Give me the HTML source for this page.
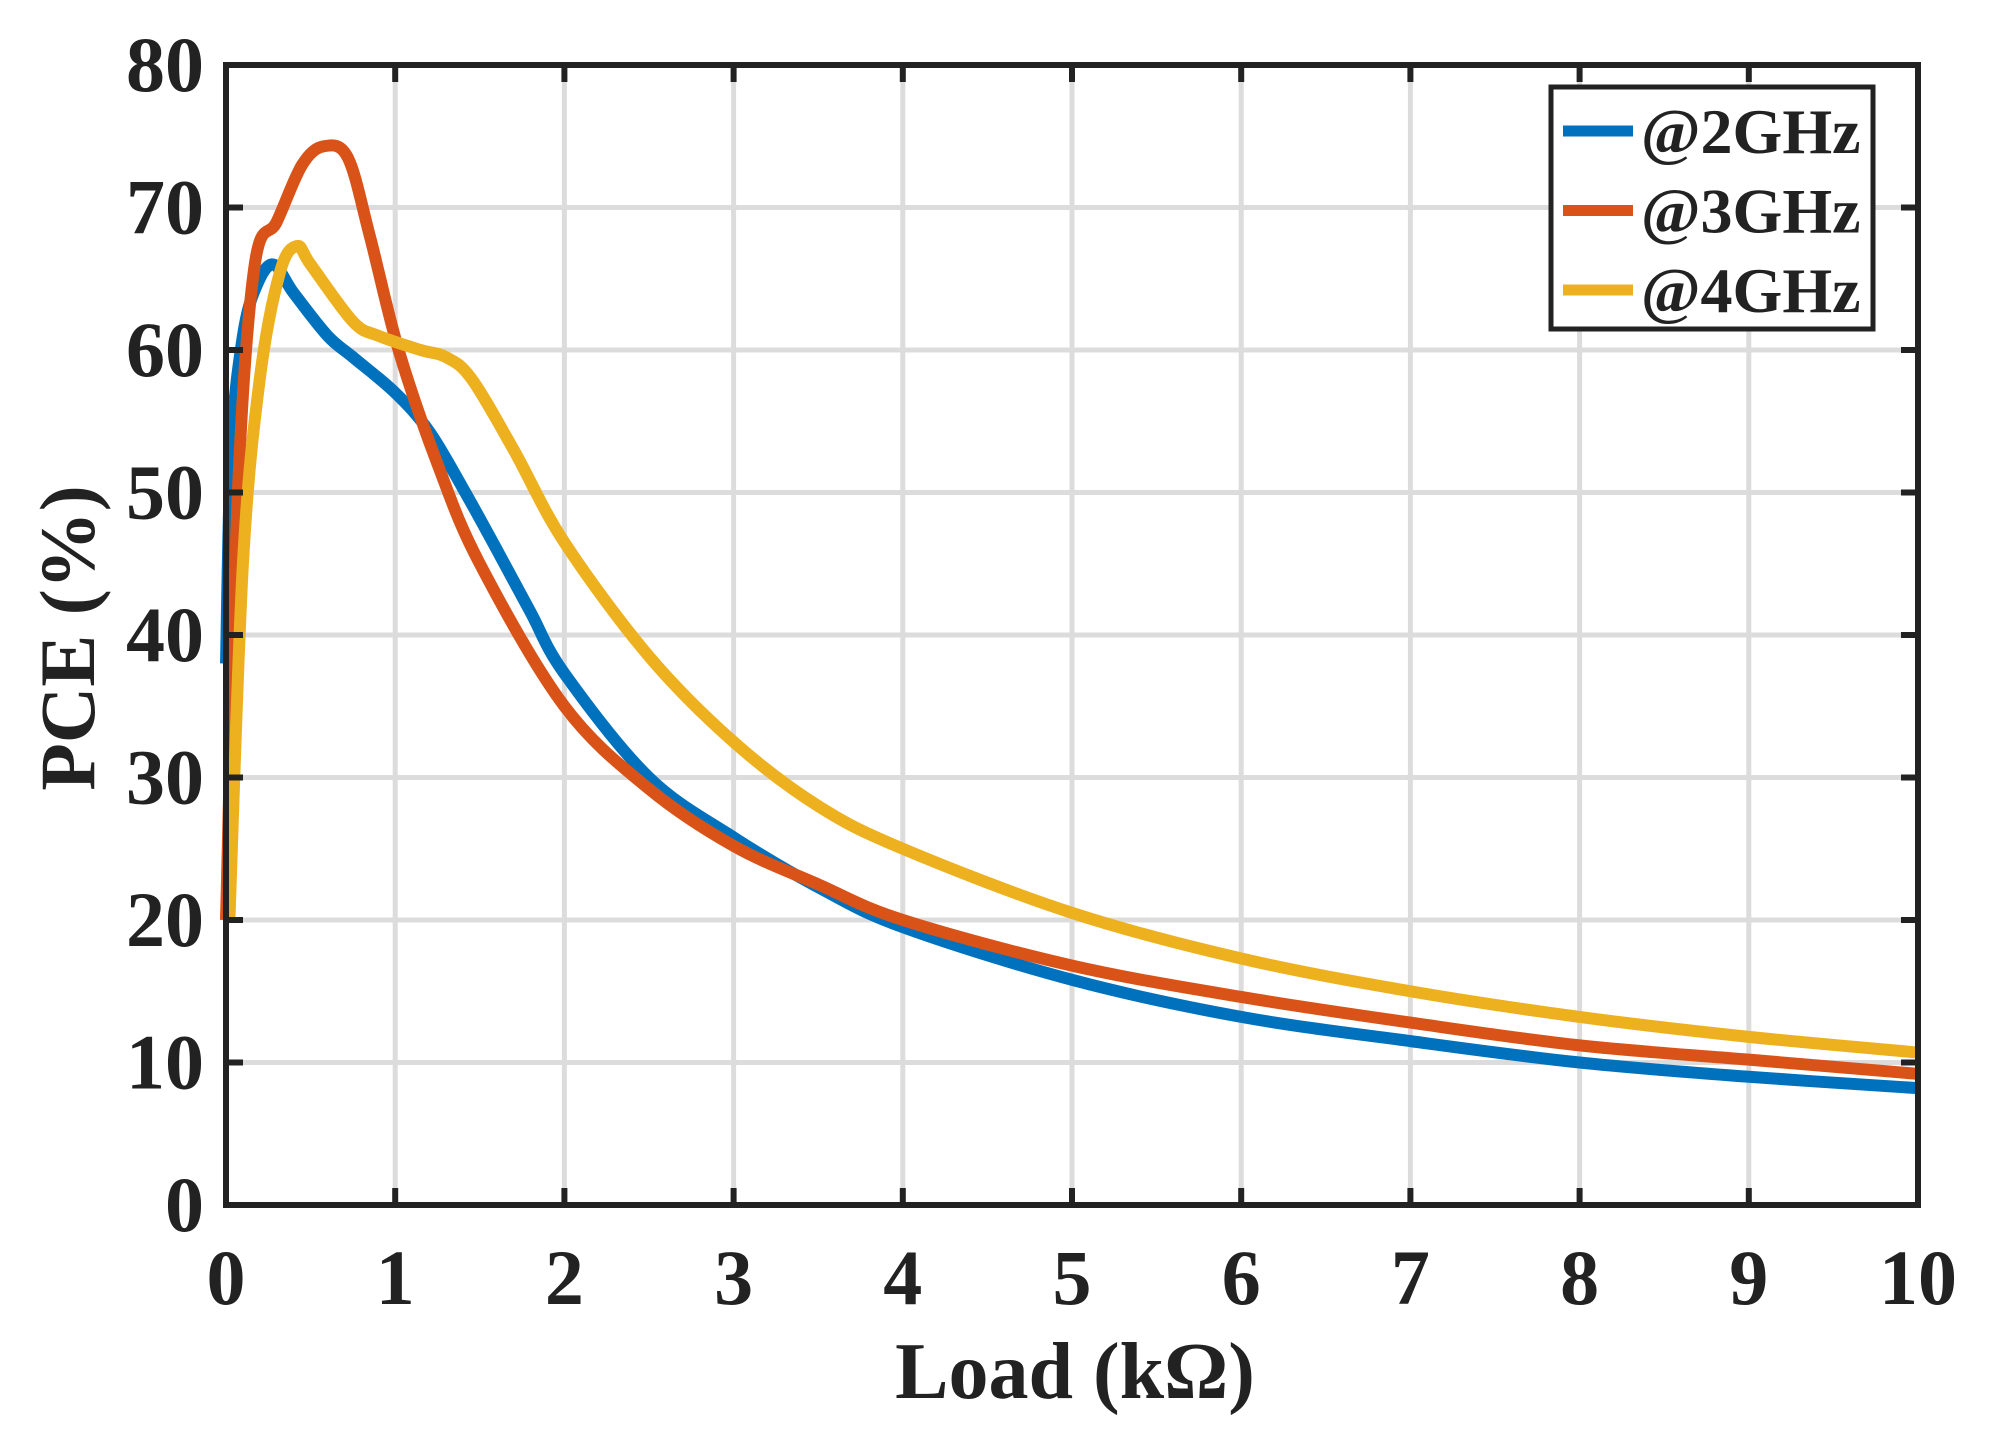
<!DOCTYPE html>
<html><head><meta charset="utf-8"><style>
body{margin:0;background:#fff}
svg text{font-family:"Liberation Serif",serif;font-weight:bold;fill:#222}
</style></head><body>
<svg id="chart" width="1990" height="1435" xmlns="http://www.w3.org/2000/svg">
<g id="grid"></g>
<g id="series"></g>
<g id="axes"></g>
<text x="1075" y="1398" font-size="80" text-anchor="middle">Load (kΩ)</text>
<text transform="translate(94,638) rotate(-90)" font-size="78" text-anchor="middle">PCE (%)</text>
<g id="legend"></g>
</svg>
<script>
const xTicks=[0,1,2,3,4,5,6,7,8,9,10];
const yTicks=[0,10,20,30,40,50,60,70,80];
const seriesNames=["@2GHz","@3GHz","@4GHz"];
const seriesColors=["#0072BD","#D95319","#EDB120"];
const x2=[0,0.03,0.1,0.18,0.28,0.4,0.6,0.75,1.0,1.2,1.4,1.6,1.8,2.0,2.5,3.0,3.5,4,5,6,7,8,9,10];
const y2=[38,53,61,64.5,66,64,61,59.5,57,54.3,50.3,46,41.6,37.3,30,25.8,22.3,19.5,15.8,13.2,11.5,10,9,8.2];
const x3=[0,0.07,0.17,0.3,0.45,0.58,0.72,0.85,1.02,1.25,1.5,2.0,2.5,3.0,3.5,4,5,6,7,8,9,10];
const y3=[20,50,66,69,73,74.3,73.5,68,60,52,45,35,29.2,25.2,22.5,20,16.8,14.6,12.8,11.2,10.2,9.2];
const x4=[0.02,0.1,0.2,0.32,0.42,0.5,0.75,0.9,1.15,1.3,1.45,1.7,2.0,2.5,3.0,3.5,4.0,5,6,7,8,9,10];
const y4=[20,45,58,65.5,67.3,66,62,61,60,59.5,58,53,46.5,38.5,32.5,28,25,20.5,17.3,15,13.2,11.8,10.7];
const L=226,R=1918,T=65,B=1205;
const sx=v=>L+(v-0)/(10-0)*(R-L);
const sy=v=>B-(v-0)/(80-0)*(B-T);
const NS="http://www.w3.org/2000/svg";
function mk(tag,attrs,parent){const e=document.createElementNS(NS,tag);for(const k in attrs)e.setAttribute(k,attrs[k]);parent.appendChild(e);return e;}
const grid=document.getElementById('grid'),axes=document.getElementById('axes'),ser=document.getElementById('series'),leg=document.getElementById('legend');
xTicks.forEach(t=>{
 const g=mk('line',{x1:sx(t),x2:sx(t),y1:T,y2:B,stroke:'#dcdcdc','stroke-width':5},grid);
 
 
 const k1=mk('line',{x1:sx(t),x2:sx(t),y1:B,y2:B-17,stroke:'#222','stroke-width':6},axes);
 
 
 const k2=mk('line',{x1:sx(t),x2:sx(t),y1:T,y2:T+17,stroke:'#222','stroke-width':6},axes);
 
 
 const tx=mk('text',{x:sx(t),y:1304,'font-size':78,'text-anchor':'middle'},axes);tx.textContent=t;
 
 
});
yTicks.forEach(t=>{
 const g=mk('line',{x1:L,x2:R,y1:sy(t),y2:sy(t),stroke:'#dcdcdc','stroke-width':5},grid);
 
 
 const k1=mk('line',{x1:L,x2:L+17,y1:sy(t),y2:sy(t),stroke:'#222','stroke-width':6},axes);
 
 
 const k2=mk('line',{x1:R,x2:R-17,y1:sy(t),y2:sy(t),stroke:'#222','stroke-width':6},axes);
 
 
 const tx=mk('text',{x:204,y:sy(t)+26,'font-size':78,'text-anchor':'end'},axes);tx.textContent=t;
 
 
});
const box=mk('rect',{x:L,y:T,width:R-L,height:B-T,fill:'none',stroke:'#222','stroke-width':6},axes);


function smooth(xs,ys){
 const p=xs.map((x,i)=>[sx(x),sy(ys[i])]);let d=`M${p[0][0]},${p[0][1]}`;
 for(let i=0;i<p.length-1;i++){const p0=p[i-1]||p[i],p1=p[i],p2=p[i+1],p3=p[i+2]||p2;
  d+=` C${p1[0]+(p2[0]-p0[0])/6},${p1[1]+(p2[1]-p0[1])/6} ${p2[0]-(p3[0]-p1[0])/6},${p2[1]-(p3[1]-p1[1])/6} ${p2[0]},${p2[1]}`;}
 return d;}
const data=[[x2,y2],[x3,y3],[x4,y4]];
data.forEach((s,i)=>{
 const p=mk('path',{d:smooth(s[0],s[1]),fill:'none',stroke:seriesColors[i],'stroke-width':12,'stroke-linejoin':'round'},ser);
 
 
});
const lb=mk('rect',{x:1551,y:87,width:322,height:242,fill:'#fff',stroke:'#222','stroke-width':5},leg);


seriesNames.forEach((n,i)=>{
 const yy=131+i*79.5;
 const ln=mk('line',{x1:1563,x2:1633,y1:yy,y2:yy,stroke:seriesColors[i],'stroke-width':11},leg);
 
 
 const tx=mk('text',{x:1641,y:yy+22,'font-size':64},leg);tx.textContent=n;
 
 
});
</script>
</body></html>
